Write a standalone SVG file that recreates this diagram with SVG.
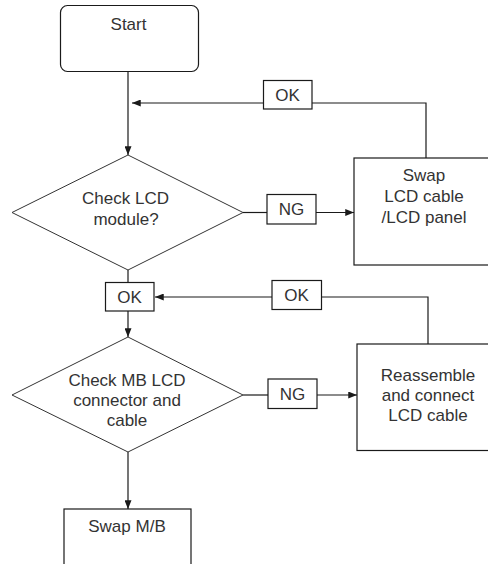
<svg xmlns="http://www.w3.org/2000/svg" width="488" height="564" viewBox="0 0 488 564">
<style>
  .shape { fill: #ffffff; stroke: #1a1a1a; stroke-width: 1.2; }
  .dia { fill: #ffffff; stroke: #333333; stroke-width: 1; }
  .line { fill: none; stroke: #1a1a1a; stroke-width: 1.2; }
  .arr { fill: none; stroke: #1a1a1a; stroke-width: 1.2; marker-end: url(#ah); }
  text { font-family: "Liberation Sans", Arial, sans-serif; font-size: 17px; fill: #333333; text-anchor: middle; }
</style>
<defs>
  <marker id="ah" viewBox="0 0 10 8" refX="10" refY="4" markerWidth="9" markerHeight="7" markerUnits="userSpaceOnUse" orient="auto">
    <path d="M0,0 L10,4 L0,8 Z" fill="#1a1a1a"/>
  </marker>
</defs>
<rect width="488" height="564" fill="#ffffff"/>

<g id="connectors">
  <line class="arr" x1="128" y1="71.5" x2="128" y2="155"/>
  <polyline class="line" points="426,158 426,103 312,103"/>
  <line class="arr" x1="263" y1="103" x2="132" y2="103"/>
  <line class="line" x1="243" y1="212.5" x2="267" y2="212.5"/>
  <line class="arr" x1="316" y1="212.5" x2="354" y2="212.5"/>
  <line class="line" x1="128" y1="270" x2="128" y2="282"/>
  <line class="arr" x1="128" y1="311" x2="128" y2="337"/>
  <polyline class="line" points="428,344 428,297 322,297"/>
  <line class="arr" x1="272" y1="297" x2="155" y2="297"/>
  <line class="line" x1="243" y1="395" x2="268" y2="395"/>
  <line class="arr" x1="317" y1="395" x2="357" y2="395"/>
  <line class="arr" x1="128" y1="452" x2="128" y2="509"/>
</g>

<g id="start">
  <rect class="shape" x="60.5" y="5.5" width="138" height="66" rx="7" ry="7"/>
  <text x="128.5" y="30">Start</text>
</g>

<g id="ok1">
  <rect class="shape" x="263.5" y="80.5" width="48.5" height="28.5"/>
  <text x="287.5" y="101">OK</text>
</g>

<g id="check-lcd">
  <polygon class="dia" points="128,155 243,212.5 128,270 12,212.5"/>
  <text x="125.5" y="204">Check LCD</text>
  <text x="126" y="225">module?</text>
</g>

<g id="ng1">
  <rect class="shape" x="267" y="194.5" width="49" height="29.5"/>
  <text x="291.5" y="215">NG</text>
</g>

<g id="swap-lcd">
  <rect class="shape" x="354" y="158" width="140" height="107"/>
  <text x="424" y="181">Swap</text>
  <text x="424" y="202">LCD cable</text>
  <text x="424" y="223">/LCD panel</text>
</g>

<g id="ok2">
  <rect class="shape" x="105.5" y="282.5" width="48.5" height="28.5"/>
  <text x="129.5" y="303">OK</text>
</g>

<g id="ok3">
  <rect class="shape" x="272" y="280.5" width="49.5" height="29"/>
  <text x="296.5" y="301">OK</text>
</g>

<g id="check-mb">
  <polygon class="dia" points="128,337 243,395 128,452 12,395"/>
  <text x="127" y="386">Check MB LCD</text>
  <text x="127" y="406">connector and</text>
  <text x="127" y="426">cable</text>
</g>

<g id="ng2">
  <rect class="shape" x="268" y="379" width="49" height="29.5"/>
  <text x="292.5" y="400">NG</text>
</g>

<g id="reassemble">
  <rect class="shape" x="357" y="344" width="140" height="106.5"/>
  <text x="428" y="381">Reassemble</text>
  <text x="428" y="401">and connect</text>
  <text x="428" y="421">LCD cable</text>
</g>

<g id="swap-mb">
  <rect class="shape" x="64" y="509" width="127" height="70"/>
  <text x="127" y="532">Swap M/B</text>
</g>
</svg>
